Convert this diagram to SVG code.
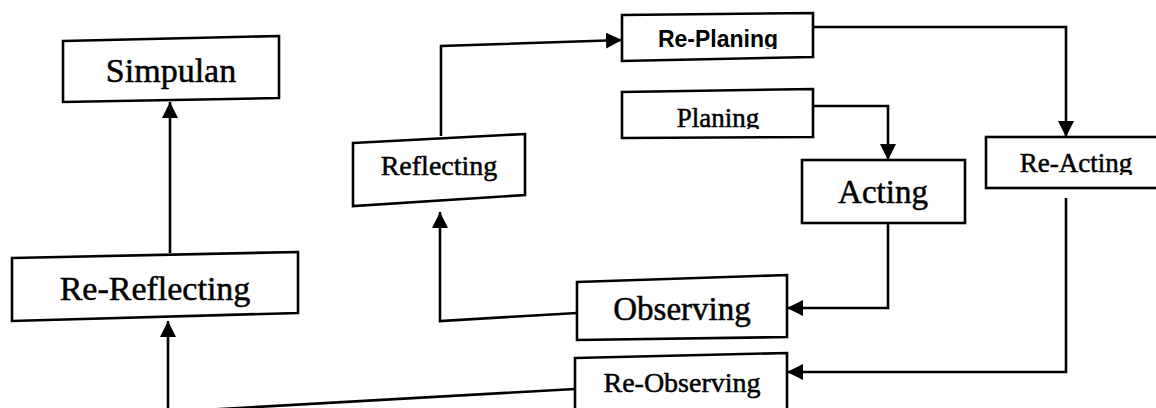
<svg xmlns="http://www.w3.org/2000/svg" width="1156" height="408" viewBox="0 0 1156 408">
<style>
.box{fill:#fff;stroke:#000;stroke-width:2.6;stroke-linejoin:miter}
.ser{font-family:"Liberation Serif","Times New Roman",serif;fill:#000;stroke:#000;stroke-width:0.5;text-anchor:middle}
.san{font-family:"Liberation Sans",Arial,sans-serif;fill:#000;font-weight:bold;text-anchor:middle}
.con{fill:none;stroke:#000;stroke-width:2.6;marker-end:url(#ah)}
</style>
<defs>
<marker id="ah" markerUnits="userSpaceOnUse" markerWidth="19" markerHeight="17" refX="16" refY="8" orient="auto">
<path d="M0,0 L16,8 L0,16 z" fill="#000"/>
</marker>
<clipPath id="cpReplan"><rect x="600" y="0" width="220" height="49"/></clipPath>
<clipPath id="cpPlan"><rect x="600" y="80" width="220" height="49"/></clipPath>
<clipPath id="cpReact"><rect x="980" y="130" width="176" height="45"/></clipPath>
</defs>
<g id="connectors">
<path class="con" d="M170,253 L170,102"/>
<path class="con" d="M575,389 L168,412 L168,321"/>
<path class="con" d="M441,136 L441,46 L622,40"/>
<path class="con" d="M577,313 L440,321 L440,212"/>
<path class="con" d="M888,223 L888,308 L787,308"/>
<path class="con" d="M813,106 L888,106 L888,160"/>
<path class="con" d="M813,27 L1066,27 L1066,137"/>
<path class="con" d="M1066,198 L1066,372 L787,372"/>
</g>
<g id="simpulan">
<polygon class="box" points="63,41 279,36 279,98 63,102"/>
<text class="ser" x="171" y="82" font-size="34">Simpulan</text>
</g>
<g id="re-reflecting">
<polygon class="box" points="12,258 298,252 298,313 12,321"/>
<text class="ser" x="155" y="300" font-size="34">Re-Reflecting</text>
</g>
<g id="reflecting">
<polygon class="box" points="353,143 525,134 525,195 353,206"/>
<text class="ser" x="439" y="175" font-size="28">Reflecting</text>
</g>
<g id="re-planing">
<polygon class="box" points="622,15 813,13 813,57 622,61"/>
<text class="san" x="718" y="47" font-size="23" clip-path="url(#cpReplan)">Re-Planing</text>
</g>
<g id="planing">
<polygon class="box" points="622,92 813,89 813,137 622,138"/>
<text class="ser" x="718" y="127" font-size="27" clip-path="url(#cpPlan)">Planing</text>
</g>
<g id="acting">
<rect class="box" x="802" y="160" width="163" height="63"/>
<text class="ser" x="883" y="203" font-size="33">Acting</text>
</g>
<g id="re-acting">
<rect class="box" x="986" y="137" width="180" height="51"/>
<text class="ser" x="1076" y="172" font-size="27" clip-path="url(#cpReact)">Re-Acting</text>
</g>
<g id="observing">
<polygon class="box" points="577,282 787,275 787,337 577,340"/>
<text class="ser" x="682" y="320" font-size="33">Observing</text>
</g>
<g id="re-observing">
<polygon class="box" points="575,358 787,353 787,420 575,420"/>
<text class="ser" x="682" y="392" font-size="28">Re-Observing</text>
</g>
</svg>
